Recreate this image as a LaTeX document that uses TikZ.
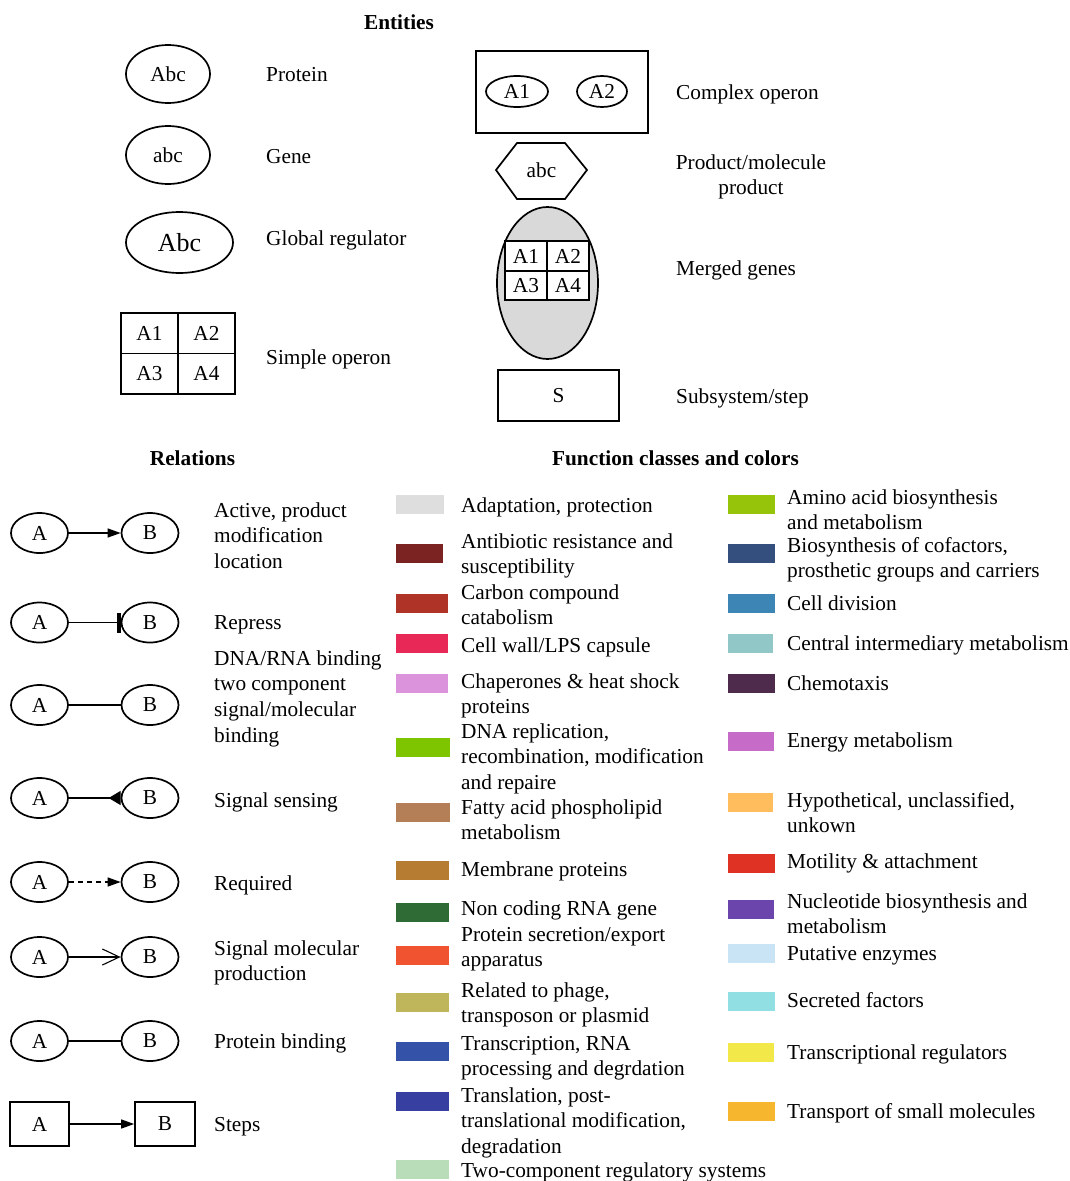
\documentclass[tikz,border=0pt]{standalone}
\usepackage{fontspec}
\setmainfont{Liberation Serif}
\usetikzlibrary{arrows.meta,shapes.geometric}
\newcommand{\mylines}[1]{\begin{tabular}[t]{@{}l@{}}#1\end{tabular}}
\newcommand{\mylinesc}[1]{\begin{tabular}[t]{@{}c@{}}#1\end{tabular}}
\definecolor{cAdapt}{HTML}{DEDEDE}
\definecolor{cAnti}{HTML}{7B2222}
\definecolor{cCarb}{HTML}{B03327}
\definecolor{cWall}{HTML}{E82856}
\definecolor{cChap}{HTML}{DB93DB}
\definecolor{cDNA}{HTML}{7EC500}
\definecolor{cFatty}{HTML}{B47F56}
\definecolor{cMemb}{HTML}{B67D32}
\definecolor{cNonc}{HTML}{2E6B35}
\definecolor{cSecr}{HTML}{F0532F}
\definecolor{cPhage}{HTML}{BFB55A}
\definecolor{cTrans}{HTML}{3452A8}
\definecolor{cTransl}{HTML}{373FA0}
\definecolor{cTwo}{HTML}{B9DDB9}
\definecolor{cAmino}{HTML}{96C40A}
\definecolor{cCofac}{HTML}{344F7D}
\definecolor{cDiv}{HTML}{3D85B5}
\definecolor{cCentral}{HTML}{92C7C7}
\definecolor{cChemo}{HTML}{4E2A4D}
\definecolor{cEnergy}{HTML}{C66CC8}
\definecolor{cHypo}{HTML}{FFBD5E}
\definecolor{cMotil}{HTML}{E03224}
\definecolor{cNucl}{HTML}{6C45AC}
\definecolor{cPut}{HTML}{C9E5F5}
\definecolor{cSecf}{HTML}{91DFE3}
\definecolor{cTreg}{HTML}{F2E84A}
\definecolor{cTransp}{HTML}{F6B72F}
\definecolor{cMerged}{HTML}{D9D9D9}
\begin{document}
\begin{tikzpicture}[x=1pt,y=-1pt,
  every node/.style={font=\fontsize{21.3}{25.8}\selectfont},
  lbl/.style={anchor=base west, inner sep=0pt},
  hdr/.style={anchor=base, inner sep=0pt, font=\fontsize{21.3}{25.8}\selectfont\bfseries},
  ent/.style={draw, ellipse, line width=1.7pt, inner sep=0pt},
  rel/.style={draw, ellipse, line width=1.7pt, minimum width=57pt, minimum height=40pt, inner sep=0pt},
  cell/.style={draw, rectangle, line width=1.7pt, inner sep=0pt},
  sw/.style={anchor=west, inner sep=0pt, minimum height=19pt, minimum width=52pt},
  swb/.style={anchor=west, inner sep=0pt, minimum height=19pt, minimum width=47pt},
  conn/.style={line width=1.3pt},
  tri/.style={-{Triangle[length=13pt,width=9pt]}},
]
\useasboundingbox (0,0) rectangle (1070,1181);

% ---------- Entities ----------
\node[hdr] (hEnt) at (399,29) {Entities};

\node[ent, minimum width=84pt, minimum height=58pt] (prot) at (168,74) {Abc};
\node[lbl] (lProt) at (266,81) {Protein};
\node[ent, minimum width=84pt, minimum height=58pt] (gene) at (168,155) {abc};
\node[lbl] (lGene) at (266,163) {Gene};
\node[ent, minimum width=107pt, minimum height=61pt, font=\fontsize{26}{30}\selectfont] (glob) at (179.5,242.5) {Abc};
\node[lbl] (lGlob) at (266,245) {Global regulator};

\node[cell, minimum width=57pt, minimum height=40.5pt] (so1) at (149.5,333.25) {A1};
\node[cell, minimum width=57pt, minimum height=40.5pt] (so2) at (206.5,333.25) {A2};
\node[cell, minimum width=57pt, minimum height=40.5pt] (so3) at (149.5,373.75) {A3};
\node[cell, minimum width=57pt, minimum height=40.5pt] (so4) at (206.5,373.75) {A4};
\node[lbl] (lSimple) at (266,364) {Simple operon};

\node[cell, minimum width=172pt, minimum height=82pt] (cplx) at (562,92) {};
\node[ent, minimum width=62pt, minimum height=31pt] (ca1) at (517,91.5) {A1};
\node[ent, minimum width=50pt, minimum height=31pt] (ca2) at (602,91.5) {A2};
\node[lbl] (lCplx) at (676,99) {Complex operon};

\draw[line width=1.7pt] (496,170) -- (517,143) -- (565,143) -- (587,170) -- (565,199) -- (517,199) -- cycle;
\node[inner sep=0pt] (hex) at (541.5,170) {abc};
\node[anchor=base, inner sep=0pt] (lProd) at (751,169) {\mylinesc{Product/molecule\\product}};

\node[ent, fill=cMerged, minimum width=101pt, minimum height=152pt] (merg) at (547.5,283) {};
\node[cell, fill=white, minimum width=42pt, minimum height=29.5pt] (mg1) at (526,256) {A1};
\node[cell, fill=white, minimum width=42pt, minimum height=29.5pt] (mg2) at (568,256) {A2};
\node[cell, fill=white, minimum width=42pt, minimum height=29.5pt] (mg3) at (526,285.5) {A3};
\node[cell, fill=white, minimum width=42pt, minimum height=29.5pt] (mg4) at (568,285.5) {A4};
\node[lbl] (lMerg) at (676,275) {Merged genes};

\node[cell, minimum width=121pt, minimum height=51pt] (sub) at (558.5,395.5) {S};
\node[lbl] (lSub) at (676,403) {Subsystem/step};

% ---------- Relations ----------
\node[hdr] (hRel) at (192.5,465) {Relations};

\node[rel] (a1) at (39.5,533) {A};
\node[rel] (b1) at (150,533) {B};
\draw[conn,tri] (a1) -- (b1);
\node[lbl] (l1) at (214,517) {\mylines{Active, product\\modification\\location}};

\node[rel] (a2) at (39.5,622.5) {A};
\node[rel] (b2) at (150,622.5) {B};
\draw[conn,-{Rectangle[length=4pt,width=20pt]}] (a2) -- (b2);
\node[lbl] (l2) at (214,629) {Repress};

\node[rel] (a3) at (39.5,705) {A};
\node[rel] (b3) at (150,705) {B};
\draw[conn] (a3) -- (b3);
\node[lbl] (l3) at (214,665) {\mylines{DNA/RNA binding\\two component\\signal/molecular\\binding}};

\node[rel] (a4) at (39.5,798) {A};
\node[rel] (b4) at (150,798) {B};
\draw[conn,-{Triangle[reversed,length=12pt,width=14pt]}] (a4) -- (b4);
\node[lbl] (l4) at (214,807) {Signal sensing};

\node[rel] (a5) at (39.5,882) {A};
\node[rel] (b5) at (150,882) {B};
\draw[conn,tri,dash pattern=on 5pt off 4pt] (a5) -- (b5);
\node[lbl] (l5) at (214,890) {Required};

\node[rel] (a6) at (39.5,957) {A};
\node[rel] (b6) at (150,957) {B};
\draw[conn,-{Straight Barb[length=17pt,width=16pt,line width=1.1pt]}] (a6) -- (b6);
\node[lbl] (l6) at (214,955) {\mylines{Signal molecular\\production}};

\node[rel] (a7) at (39.5,1041) {A};
\node[rel] (b7) at (150,1041) {B};
\draw[conn] (a7) -- (b7);
\node[lbl] (l7) at (214,1048) {Protein binding};

\node[cell, minimum width=59pt, minimum height=44pt] (a8) at (39.5,1124) {A};
\node[cell, minimum width=60pt, minimum height=44pt] (b8) at (165,1124) {B};
\draw[conn,tri] (a8) -- (b8);
\node[lbl] (l8) at (214,1131) {Steps};

% ---------- Function classes ----------
\node[hdr] (hFun) at (675.5,465) {Function classes and colors};

\node[sw, fill=cAdapt, minimum width=48pt] (s1) at (396,504) {};
\node[lbl] (t1) at (461,512) {Adaptation, protection};
\node[sw, fill=cAnti, minimum width=47pt] (s2) at (396,553) {};
\node[lbl] (t2) at (461,548) {\mylines{Antibiotic resistance and\\susceptibility}};
\node[sw, fill=cCarb] (s3) at (396,603) {};
\node[lbl] (t3) at (461,599) {\mylines{Carbon compound\\catabolism}};
\node[sw, fill=cWall] (s4) at (396,643) {};
\node[lbl] (t4) at (461,652) {Cell wall/LPS capsule};
\node[sw, fill=cChap] (s5) at (396,683) {};
\node[lbl] (t5) at (461,688) {\mylines{Chaperones \& heat shock\\proteins}};
\node[sw, fill=cDNA, minimum width=54pt] (s6) at (396,747) {};
\node[lbl] (t6) at (461,738) {\mylines{DNA replication,\\recombination, modification\\and repaire}};
\node[sw, fill=cFatty, minimum width=54pt] (s7) at (396,812) {};
\node[lbl] (t7) at (461,814) {\mylines{Fatty acid phospholipid\\metabolism}};
\node[sw, fill=cMemb, minimum width=53pt] (s8) at (396,870) {};
\node[lbl] (t8) at (461,876) {Membrane proteins};
\node[sw, fill=cNonc, minimum width=53pt] (s9) at (396,912) {};
\node[lbl] (t9) at (461,915) {Non coding RNA gene};
\node[sw, fill=cSecr, minimum width=53pt] (s10) at (396,955) {};
\node[lbl] (t10) at (461,941) {\mylines{Protein secretion/export\\apparatus}};
\node[sw, fill=cPhage, minimum width=53pt] (s11) at (396,1002) {};
\node[lbl] (t11) at (461,997) {\mylines{Related to phage,\\transposon or plasmid}};
\node[sw, fill=cTrans, minimum width=53pt] (s12) at (396,1051) {};
\node[lbl] (t12) at (461,1050) {\mylines{Transcription, RNA\\processing and degrdation}};
\node[sw, fill=cTransl, minimum width=53pt] (s13) at (396,1101) {};
\node[lbl] (t13) at (461,1102) {\mylines{Translation, post-\\translational modification,\\degradation}};
\node[sw, fill=cTwo, minimum width=53pt] (s14) at (396,1169) {};
\node[lbl] (t14) at (461,1177) {Two-component regulatory systems};

\node[swb, fill=cAmino] (r1) at (728,504) {};
\node[lbl] (u1) at (787,504) {\mylines{Amino acid biosynthesis\\and metabolism}};
\node[swb, fill=cCofac] (r2) at (728,553) {};
\node[lbl] (u2) at (787,552) {\mylines{Biosynthesis of cofactors,\\prosthetic groups and carriers}};
\node[swb, fill=cDiv] (r3) at (728,603) {};
\node[lbl] (u3) at (787,610) {Cell division};
\node[swb, fill=cCentral, minimum width=45pt] (r4) at (728,643) {};
\node[lbl] (u4) at (787,650) {Central intermediary metabolism};
\node[swb, fill=cChemo] (r5) at (728,683) {};
\node[lbl] (u5) at (787,690) {Chemotaxis};
\node[swb, fill=cEnergy, minimum width=46pt] (r6) at (728,741) {};
\node[lbl] (u6) at (787,747) {Energy metabolism};
\node[swb, fill=cHypo, minimum width=45pt] (r7) at (728,802) {};
\node[lbl] (u7) at (787,807) {\mylines{Hypothetical, unclassified,\\unkown}};
\node[swb, fill=cMotil] (r8) at (728,863) {};
\node[lbl] (u8) at (787,868) {Motility \& attachment};
\node[swb, fill=cNucl, minimum width=46pt] (r9) at (728,909) {};
\node[lbl] (u9) at (787,908) {\mylines{Nucleotide biosynthesis and\\metabolism}};
\node[swb, fill=cPut] (r10) at (728,953) {};
\node[lbl] (u10) at (787,960) {Putative enzymes};
\node[swb, fill=cSecf] (r11) at (728,1001) {};
\node[lbl] (u11) at (787,1007) {Secreted factors};
\node[swb, fill=cTreg, minimum width=46pt] (r12) at (728,1052) {};
\node[lbl] (u12) at (787,1059) {Transcriptional regulators};
\node[swb, fill=cTransp] (r13) at (728,1111) {};
\node[lbl] (u13) at (787,1118) {Transport of small molecules};
\end{tikzpicture}
\end{document}
